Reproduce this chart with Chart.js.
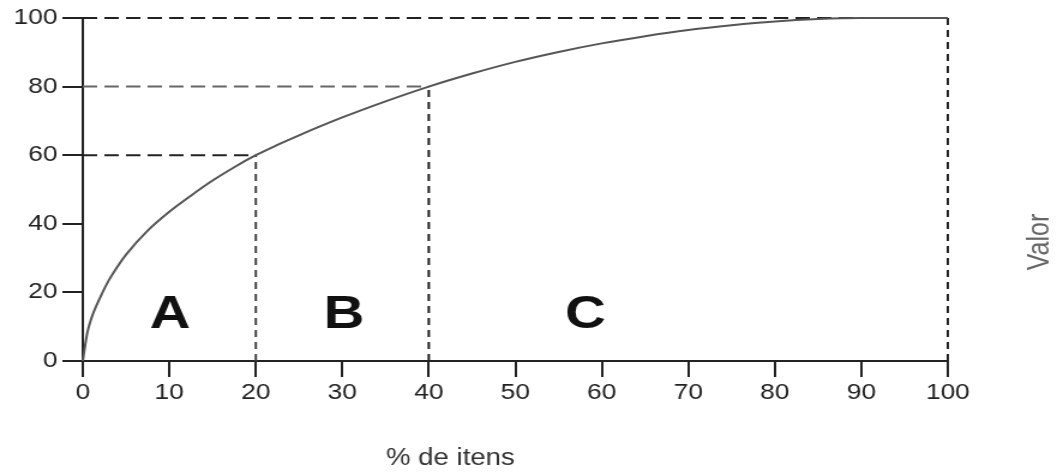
<!DOCTYPE html>
<html>
<head>
<meta charset="utf-8">
<script src="https://cdn.jsdelivr.net/npm/chart.js@4.4.1/dist/chart.umd.min.js"></script>
<style>
  html, body { margin: 0; padding: 0; background: #fff; }
  #c { display: block; width: 1063px !important; height: 473px !important; }
</style>
</head>
<body>
<canvas id="c" width="886" height="473" style="display:block;width:1063px;height:473px;"></canvas>
<script>
// ---- data ----
const itemPct  = [0, 0.5, 1, 2, 3, 4, 5, 7.5, 10, 12.5, 15, 17.5, 20, 22.5, 25, 30, 35, 40, 45, 50, 55, 60, 65, 70, 75, 80, 85, 90, 100];
const valuePct = [0, 8, 12.5, 18.5, 23.5, 27.5, 31, 38, 43.5, 48.2, 52.6, 56.5, 60, 63, 65.8, 71, 75.7, 80, 83.8, 87.2, 90.1, 92.6, 94.7, 96.5, 97.9, 99, 99.7, 100, 100];
const cutItems  = [20, 40, 100];
const cutValues = [60, 80, 100];
const classLabels = ['A', 'B', 'C'];
const classLabelX = [10.1, 30.2, 58.1];
const classLabelY = 13.4;
const xTickValues = [0, 10, 20, 30, 40, 50, 60, 70, 80, 90, 100];
const yTickValues = [0, 20, 40, 60, 80, 100];
const xTitle = '% de itens';
const yTitle = 'Valor';

const FONT = '"Liberation Sans", Arial, Helvetica, sans-serif';

const curve = itemPct.map((x, i) => ({ x: x, y: valuePct[i] }));

const datasets = [{
  data: curve,
  borderColor: '#555',
  borderWidth: 2,
  pointRadius: 0,
  cubicInterpolationMode: 'monotone',
  fill: false,
  order: 0,
  clip: 4
}];

cutItems.forEach((cx, i) => {
  const cy = cutValues[i];
  datasets.push({
    data: [{ x: 0, y: cy }, { x: cx, y: cy }],
    borderColor: cy === 80 ? '#666' : '#222',
    borderWidth: 2,
    borderDash: [12, 6],
    pointRadius: 0,
    order: 1,
    clip: 4
  });
  datasets.push({
    data: [{ x: cx, y: 0 }, { x: cx, y: cy }],
    borderColor: cx === 20 ? '#444' : '#222',
    borderWidth: 2,
    borderDash: [7, 5],
    pointRadius: 0,
    order: 1,
    clip: 4
  });
});

const labelPlugin = {
  id: 'abcLabels',
  afterDatasetsDraw(chart) {
    const { ctx, scales, chartArea } = chart;
    const x = scales.x, y = scales.y;
    ctx.save();
    ctx.fillStyle = '#111';
    ctx.textAlign = 'center';
    ctx.textBaseline = 'middle';
    ctx.font = 'bold 47px ' + FONT;
    classLabels.forEach((t, i) => {
      ctx.fillText(t, x.getPixelForValue(classLabelX[i]), y.getPixelForValue(classLabelY));
    });
    // x title
    ctx.font = '23px ' + FONT;
    ctx.fillStyle = '#333';
    ctx.fillText(xTitle, x.getPixelForValue(42.5), chartArea.bottom + 98);
    // right-side title
    ctx.translate(chartArea.right + 77.5, chartArea.top + 224);
    ctx.rotate(-Math.PI / 2);
    ctx.font = '25px ' + FONT;
    ctx.fillStyle = '#666';
    ctx.fillText(yTitle, 0, 0);
    ctx.restore();
  }
};

new Chart(document.getElementById('c'), {
  type: 'line',
  data: { datasets: datasets },
  options: {
    responsive: false,
    animation: false,
    events: [],
    layout: { padding: { left: 0, right: 96, top: 18, bottom: 0 } },
    plugins: { legend: { display: false }, tooltip: { enabled: false } },
    scales: {
      x: {
        type: 'linear',
        min: 0, max: 100,
        afterBuildTicks: (s) => { s.ticks = xTickValues.map(v => ({ value: v })); },
        afterFit: (s) => { s.height = 112; },
        grid: { drawOnChartArea: false, drawTicks: true, tickLength: 16, color: '#222', lineWidth: 2 },
        border: { color: '#222', width: 2 },
        ticks: { color: '#222', font: { family: FONT, size: 22 }, padding: 3, maxRotation: 0, autoSkip: false }
      },
      y: {
        type: 'linear',
        min: 0, max: 100,
        afterBuildTicks: (s) => { s.ticks = yTickValues.map(v => ({ value: v })); },
        afterFit: (s) => { s.width = 69; },
        grid: { drawOnChartArea: false, drawTicks: true, tickLength: 17, color: '#222', lineWidth: 2 },
        border: { color: '#222', width: 2 },
        ticks: { color: '#222', font: { family: FONT, size: 22 }, padding: 4, autoSkip: false }
      }
    }
  },
  plugins: [labelPlugin]
});
</script>
</body>
</html>
